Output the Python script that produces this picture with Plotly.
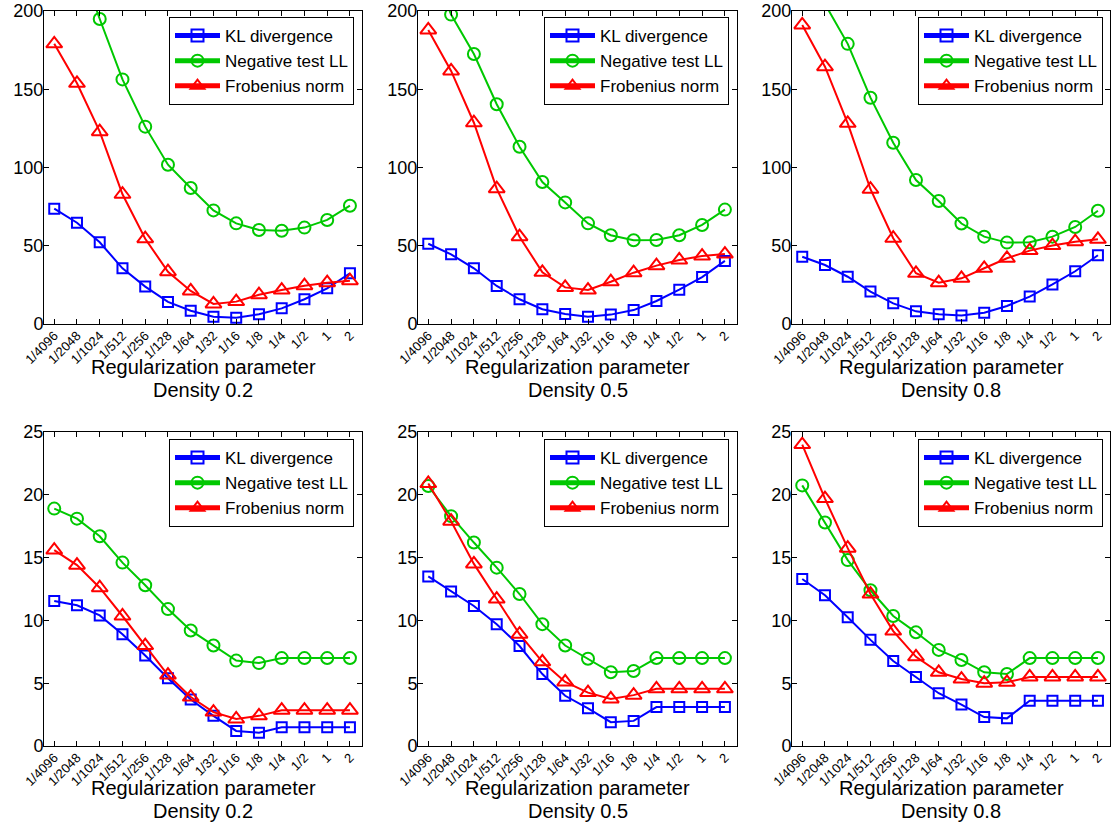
import plotly.graph_objects as go

categories = ["1/4096", "1/2048", "1/1024", "1/512", "1/256", "1/128", "1/64",
              "1/32", "1/16", "1/8", "1/4", "1/2", "1", "2"]
series_names = ["KL divergence", "Negative test LL", "Frobenius norm"]
densities = ["Density 0.2", "Density 0.5", "Density 0.8"]

# Top row (y 0-200)
kl_top_02 = [73.7, 64.7, 52.2, 35.6, 23.9, 14.1, 8.5, 4.7, 4.0, 6.2, 10.0, 15.8, 22.8, 32.4]
ll_top_02 = [280, 236, 194.9, 156.3, 126.1, 101.8, 86.9, 72.6, 64.3, 60.1, 59.6, 61.6, 66.5, 75.6]
fro_top_02 = [179.0, 153.8, 122.9, 82.9, 54.5, 33.4, 21.1, 12.8, 14.3, 18.7, 21.7, 24.5, 26.4, 27.7]

kl_top_05 = [51.3, 44.5, 35.6, 24.3, 15.8, 9.4, 6.4, 4.7, 6.0, 8.9, 14.7, 21.9, 30.0, 40.3]
ll_top_05 = [235, 197.7, 172.5, 140.4, 113.3, 90.7, 77.7, 64.3, 56.7, 53.5, 53.7, 56.7, 63.3, 73.1]
fro_top_05 = [187.9, 161.7, 128.6, 86.5, 55.8, 33.0, 23.4, 21.7, 27.0, 32.8, 37.3, 40.9, 43.4, 44.7]

kl_top_08 = [43.0, 37.7, 30.2, 20.7, 13.2, 8.1, 6.2, 5.5, 7.2, 11.5, 17.5, 25.3, 33.7, 43.9]
ll_top_08 = [235, 204.5, 179.0, 144.6, 115.8, 92.0, 78.6, 64.2, 55.8, 52.0, 52.2, 55.8, 62.0, 72.4]
fro_top_08 = [191.1, 164.4, 128.2, 86.1, 54.8, 32.4, 26.4, 29.2, 35.6, 42.0, 46.9, 50.1, 52.6, 54.1]

# Bottom row (y 0-25)
kl_bot_02 = [11.55, 11.2, 10.4, 8.9, 7.2, 5.4, 3.7, 2.4, 1.2, 1.06, 1.5, 1.5, 1.5, 1.5]
ll_bot_02 = [18.9, 18.1, 16.7, 14.6, 12.8, 10.9, 9.2, 8.0, 6.8, 6.6, 7.0, 7.0, 7.0, 7.0]
fro_bot_02 = [15.6, 14.4, 12.6, 10.35, 8.0, 5.65, 3.9, 2.7, 2.15, 2.4, 2.85, 2.85, 2.85, 2.85]

kl_bot_05 = [13.5, 12.3, 11.15, 9.7, 7.96, 5.73, 4.0, 3.0, 1.9, 2.0, 3.1, 3.1, 3.1, 3.1]
ll_bot_05 = [20.7, 18.3, 16.2, 14.2, 12.1, 9.7, 8.0, 6.95, 5.87, 5.97, 7.0, 7.0, 7.0, 7.0]
fro_bot_05 = [20.9, 17.9, 14.5, 11.7, 8.9, 6.7, 5.1, 4.25, 3.75, 4.05, 4.55, 4.55, 4.55, 4.55]

kl_bot_08 = [13.3, 12.0, 10.25, 8.45, 6.77, 5.5, 4.2, 3.3, 2.3, 2.2, 3.6, 3.6, 3.6, 3.6]
ll_bot_08 = [20.75, 17.8, 14.8, 12.4, 10.35, 9.05, 7.65, 6.85, 5.87, 5.73, 7.0, 7.0, 7.0, 7.0]
fro_bot_08 = [24.0, 19.7, 15.75, 12.1, 9.15, 7.1, 5.87, 5.33, 5.0, 5.07, 5.5, 5.5, 5.5, 5.5]

panels = [
    (kl_top_02, ll_top_02, fro_top_02),
    (kl_top_05, ll_top_05, fro_top_05),
    (kl_top_08, ll_top_08, fro_top_08),
    (kl_bot_02, ll_bot_02, fro_bot_02),
    (kl_bot_05, ll_bot_05, fro_bot_05),
    (kl_bot_08, ll_bot_08, fro_bot_08),
]

W, H = 1111, 826
FONT = "Liberation Sans, Arial, sans-serif"
colors = ["#0000FF", "#00C800", "#FF0000"]
symbols = ["square-open", "circle-open", "triangle-up-open"]
msizes = [10, 12, 14]

x_px = [(44, 362), (418, 737), (792, 1110)]
y_px = [(11, 324), (432, 746)]
legend_right_px = [354, 729, 1103]
legend_top_px = [17, 439]

fig = go.Figure()
layout = dict(
    template="none",
    width=W, height=H,
    margin=dict(l=0, r=0, t=0, b=0, autoexpand=False),
    paper_bgcolor="white", plot_bgcolor="white",
    font=dict(family=FONT, color="black"),
    showlegend=True,
    annotations=[],
)

for p, data in enumerate(panels):
    row, col = divmod(p, 3)
    idx = p + 1
    xa = "x" if idx == 1 else f"x{idx}"
    ya = "y" if idx == 1 else f"y{idx}"
    lg = "legend" if idx == 1 else f"legend{idx}"
    for s in range(3):
        fig.add_trace(go.Scatter(
            x=categories, y=data[s], name=series_names[s],
            mode="lines+markers", xaxis=xa, yaxis=ya, legend=lg,
            line=dict(color=colors[s], width=2),
            marker=dict(symbol=symbols[s], size=msizes[s], color=colors[s],
                        line=dict(color=colors[s], width=2)),
        ))
    x0, x1 = x_px[col]
    y0, y1 = y_px[row]
    xkey = "xaxis" if idx == 1 else f"xaxis{idx}"
    ykey = "yaxis" if idx == 1 else f"yaxis{idx}"
    layout[xkey] = dict(
        domain=[x0 / W, x1 / W], anchor=ya, automargin=False,
        type="category", categoryorder="array", categoryarray=categories,
        range=[-0.45, 13.53], tickangle=-45,
        tickfont=dict(size=13, family=FONT, color="black"),
        ticklabelstandoff=-2,
        ticks="inside", ticklen=5, tickcolor="black",
        showline=True, linecolor="black", linewidth=1, mirror="ticks",
        showgrid=False, zeroline=False,
    )
    if row == 0:
        yr, dt = [0, 200], 50
    else:
        yr, dt = [0, 25], 5
    layout[ykey] = dict(
        domain=[1 - y1 / H, 1 - y0 / H], anchor=xa, automargin=False,
        range=yr, dtick=dt, tick0=0,
        tickfont=dict(size=18, family=FONT, color="black"),
        ticklabelstandoff=-4,
        ticks="inside", ticklen=5, tickcolor="black",
        showline=True, linecolor="black", linewidth=1, mirror="ticks",
        showgrid=False, zeroline=False,
    )
    layout[lg] = dict(
        x=legend_right_px[col] / W, xanchor="right",
        y=1 - legend_top_px[row] / H, yanchor="top",
        bgcolor="white", bordercolor="black", borderwidth=1,
        font=dict(size=17, family=FONT, color="black"),
        tracegroupgap=0, itemsizing="constant", itemwidth=45,
    )
    cx = (x0 + x1) / 2 / W
    t1 = 367 if row == 0 else 788
    layout["annotations"].append(dict(
        x=cx, y=1 - t1 / H, xref="paper", yref="paper",
        text="Regularization parameter", showarrow=False,
        xanchor="center", yanchor="middle",
        font=dict(size=20, family=FONT, color="black")))
    layout["annotations"].append(dict(
        x=cx, y=1 - (t1 + 23) / H, xref="paper", yref="paper",
        text=densities[col], showarrow=False,
        xanchor="center", yanchor="middle",
        font=dict(size=20, family=FONT, color="black")))

fig.update_layout(**layout)
fig.write_html(
    "out.html",
    config={"displayModeBar": False},
    post_script="document.body.style.margin='0';document.body.style.overflow='hidden';",
)
